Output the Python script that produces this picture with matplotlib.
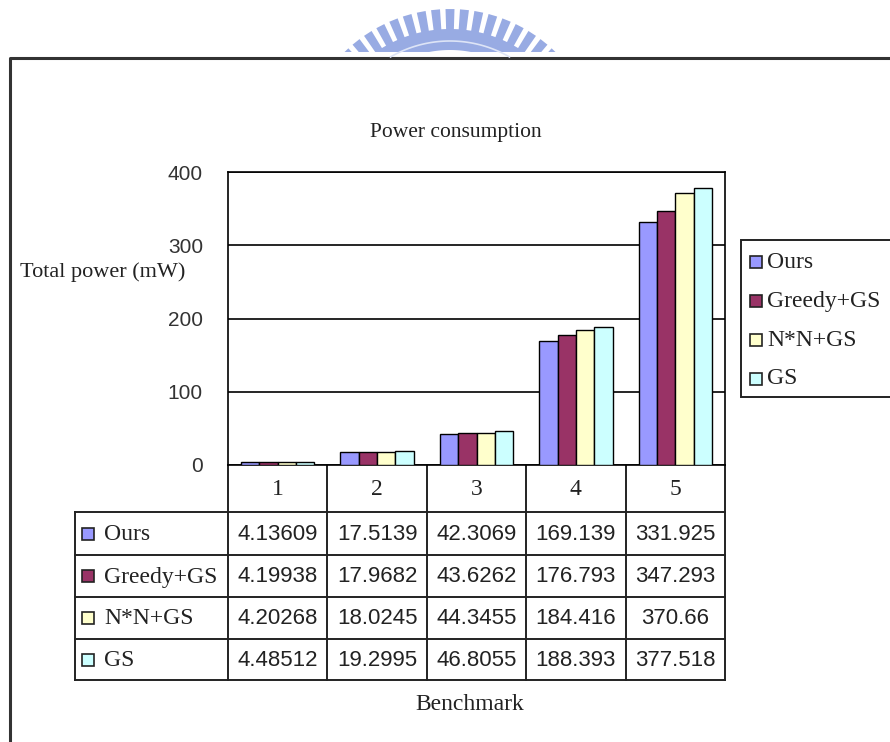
import matplotlib
matplotlib.use("Agg")
import matplotlib.pyplot as plt
import matplotlib.patches as mpatches
import numpy as np

W, H = 890, 742
SERIF = "Liberation Serif"
SANS = "Liberation Sans"

benchmarks = ["1", "2", "3", "4", "5"]
series = ["Ours", "Greedy+GS", "N*N+GS", "GS"]
ours = [4.13609, 17.5139, 42.3069, 169.139, 331.925]
greedy_gs = [4.19938, 17.9682, 43.6262, 176.793, 347.293]
nn_gs = [4.20268, 18.0245, 44.3455, 184.416, 370.66]
gs = [4.48512, 19.2995, 46.8055, 188.393, 377.518]
yticks = [0, 100, 200, 300, 400]

colors = ["#9999FF", "#993366", "#FFFFCC", "#CCFFFF"]
values = [ours, greedy_gs, nn_gs, gs]
TXT = "#222222"

fig = plt.figure(figsize=(W / 100, H / 100), dpi=100)
fig.patch.set_facecolor("white")

# overlay in pixel coordinates for frame, table, legend, texts
ov = fig.add_axes([0, 0, 1, 1])
ov.set_xlim(0, W)
ov.set_ylim(H, 0)
ov.axis("off")

# plot area
L, R, T, B = 228, 725, 172, 465
ax = fig.add_axes([L / W, (H - B) / H, (R - L) / W, (B - T) / H])
x = np.arange(len(benchmarks))
bw = 0.185
for i, (name, vals) in enumerate(zip(series, values)):
    ax.bar(x + (i - 1.5) * bw, vals, bw, color=colors[i], edgecolor="black",
           linewidth=1, label=name, zorder=3)
ax.set_xlim(-0.5, len(benchmarks) - 0.5)
ax.set_ylim(0, 400)
ax.set_yticks(yticks)
ax.set_yticklabels([str(v) for v in yticks], fontfamily=SANS, fontsize=15, color="#333333")
ax.set_xticks([])
ax.tick_params(axis="y", length=0, pad=18)
ax.grid(axis="y", color="black", linewidth=1.2, zorder=0)
for s in ax.spines.values():
    s.set_color("black")
    s.set_linewidth(1.2)

# outer frame
ov.plot([10, 10, W], [H, 58, 58], color="#333333", lw=2.2, solid_capstyle="butt")

# watermark arc at top
wm = "#98ABE3"
clip = mpatches.Rectangle((0, 0), W, 52, transform=ov.transData)
cx, cy = 450, 160
th = np.radians(np.linspace(-50, 50, 200))
band = np.concatenate([
    np.column_stack([cx + 131 * np.sin(th), cy - 131 * np.cos(th)]),
    np.column_stack([cx + 110 * np.sin(th[::-1]), cy - 110 * np.cos(th[::-1])]),
])
p = mpatches.Polygon(band, closed=True, facecolor=wm, edgecolor="none")
ov.add_patch(p)
p.set_clip_path(clip)
for a in np.arange(-49.5, 50, 5.5):
    t = np.radians([a - 1.7, a + 1.7])
    pts = [(cx + 128 * np.sin(t[0]), cy - 128 * np.cos(t[0])),
           (cx + 151 * np.sin(t[0]), cy - 151 * np.cos(t[0])),
           (cx + 151 * np.sin(t[1]), cy - 151 * np.cos(t[1])),
           (cx + 128 * np.sin(t[1]), cy - 128 * np.cos(t[1]))]
    tp = mpatches.Polygon(pts, closed=True, facecolor=wm, edgecolor="none")
    ov.add_patch(tp)
    tp.set_clip_path(clip)
th2 = np.radians(np.linspace(-30, 30, 80))
ov.plot(cx + 119 * np.sin(th2), cy - 119 * np.cos(th2), color="#DDE4F6", lw=1.2,
        clip_path=clip)

# titles
ov.text(456, 132, "Power consumption", ha="center", va="center", fontsize=15.5,
        fontfamily=SERIF, color=TXT)
ov.text(20, 272, "Total power (mW)", ha="left", va="center", fontsize=16,
        fontfamily=SERIF, color=TXT)
ov.text(470, 705, "Benchmark", ha="center", va="center", fontsize=17,
        fontfamily=SERIF, color=TXT)

# data table
col_edges = L + np.arange(len(benchmarks) + 1) * (R - L) / len(benchmarks)
row_edges = [465, 512, 555, 597, 639, 680]
TL = 75
lc = dict(color=TXT, lw=1.4)
for xe in col_edges:
    ov.plot([xe, xe], [row_edges[0], row_edges[-1]], **lc)
ov.plot([TL, TL], [row_edges[1], row_edges[-1]], **lc)
for ye in row_edges[1:]:
    ov.plot([TL, R], [ye, ye], **lc)
for j, b in enumerate(benchmarks):
    xc = (col_edges[j] + col_edges[j + 1]) / 2
    ov.text(xc, (row_edges[0] + row_edges[1]) / 2 + 1, b, ha="center", va="center",
            fontsize=17, fontfamily=SERIF, color=TXT)
for i, (name, vals) in enumerate(zip(series, values)):
    yc = (row_edges[i + 1] + row_edges[i + 2]) / 2
    ov.add_patch(mpatches.Rectangle((82, yc - 6), 12, 12, facecolor=colors[i],
                                    edgecolor=TXT, lw=1.2))
    ov.text(104, yc + 1, name, ha="left", va="center", fontsize=17,
            fontfamily=SERIF, color=TXT)
    for j, v in enumerate(vals):
        xc = (col_edges[j] + col_edges[j + 1]) / 2
        ov.text(xc, yc + 1, f"{v:g}", ha="center", va="center", fontsize=16,
                fontfamily=SANS, color=TXT)

# legend box (runs off the right edge)
ov.add_patch(mpatches.Rectangle((741, 240), 200, 157, facecolor="white",
                                edgecolor=TXT, lw=1.4))
for i, name in enumerate(series):
    yc = 262 + i * 39
    ov.add_patch(mpatches.Rectangle((750, yc - 6), 12, 12, facecolor=colors[i],
                                    edgecolor=TXT, lw=1.2))
    ov.text(767, yc, name, ha="left", va="center", fontsize=17,
            fontfamily=SERIF, color=TXT)

fig.savefig("out.png", dpi=100, facecolor="white")
